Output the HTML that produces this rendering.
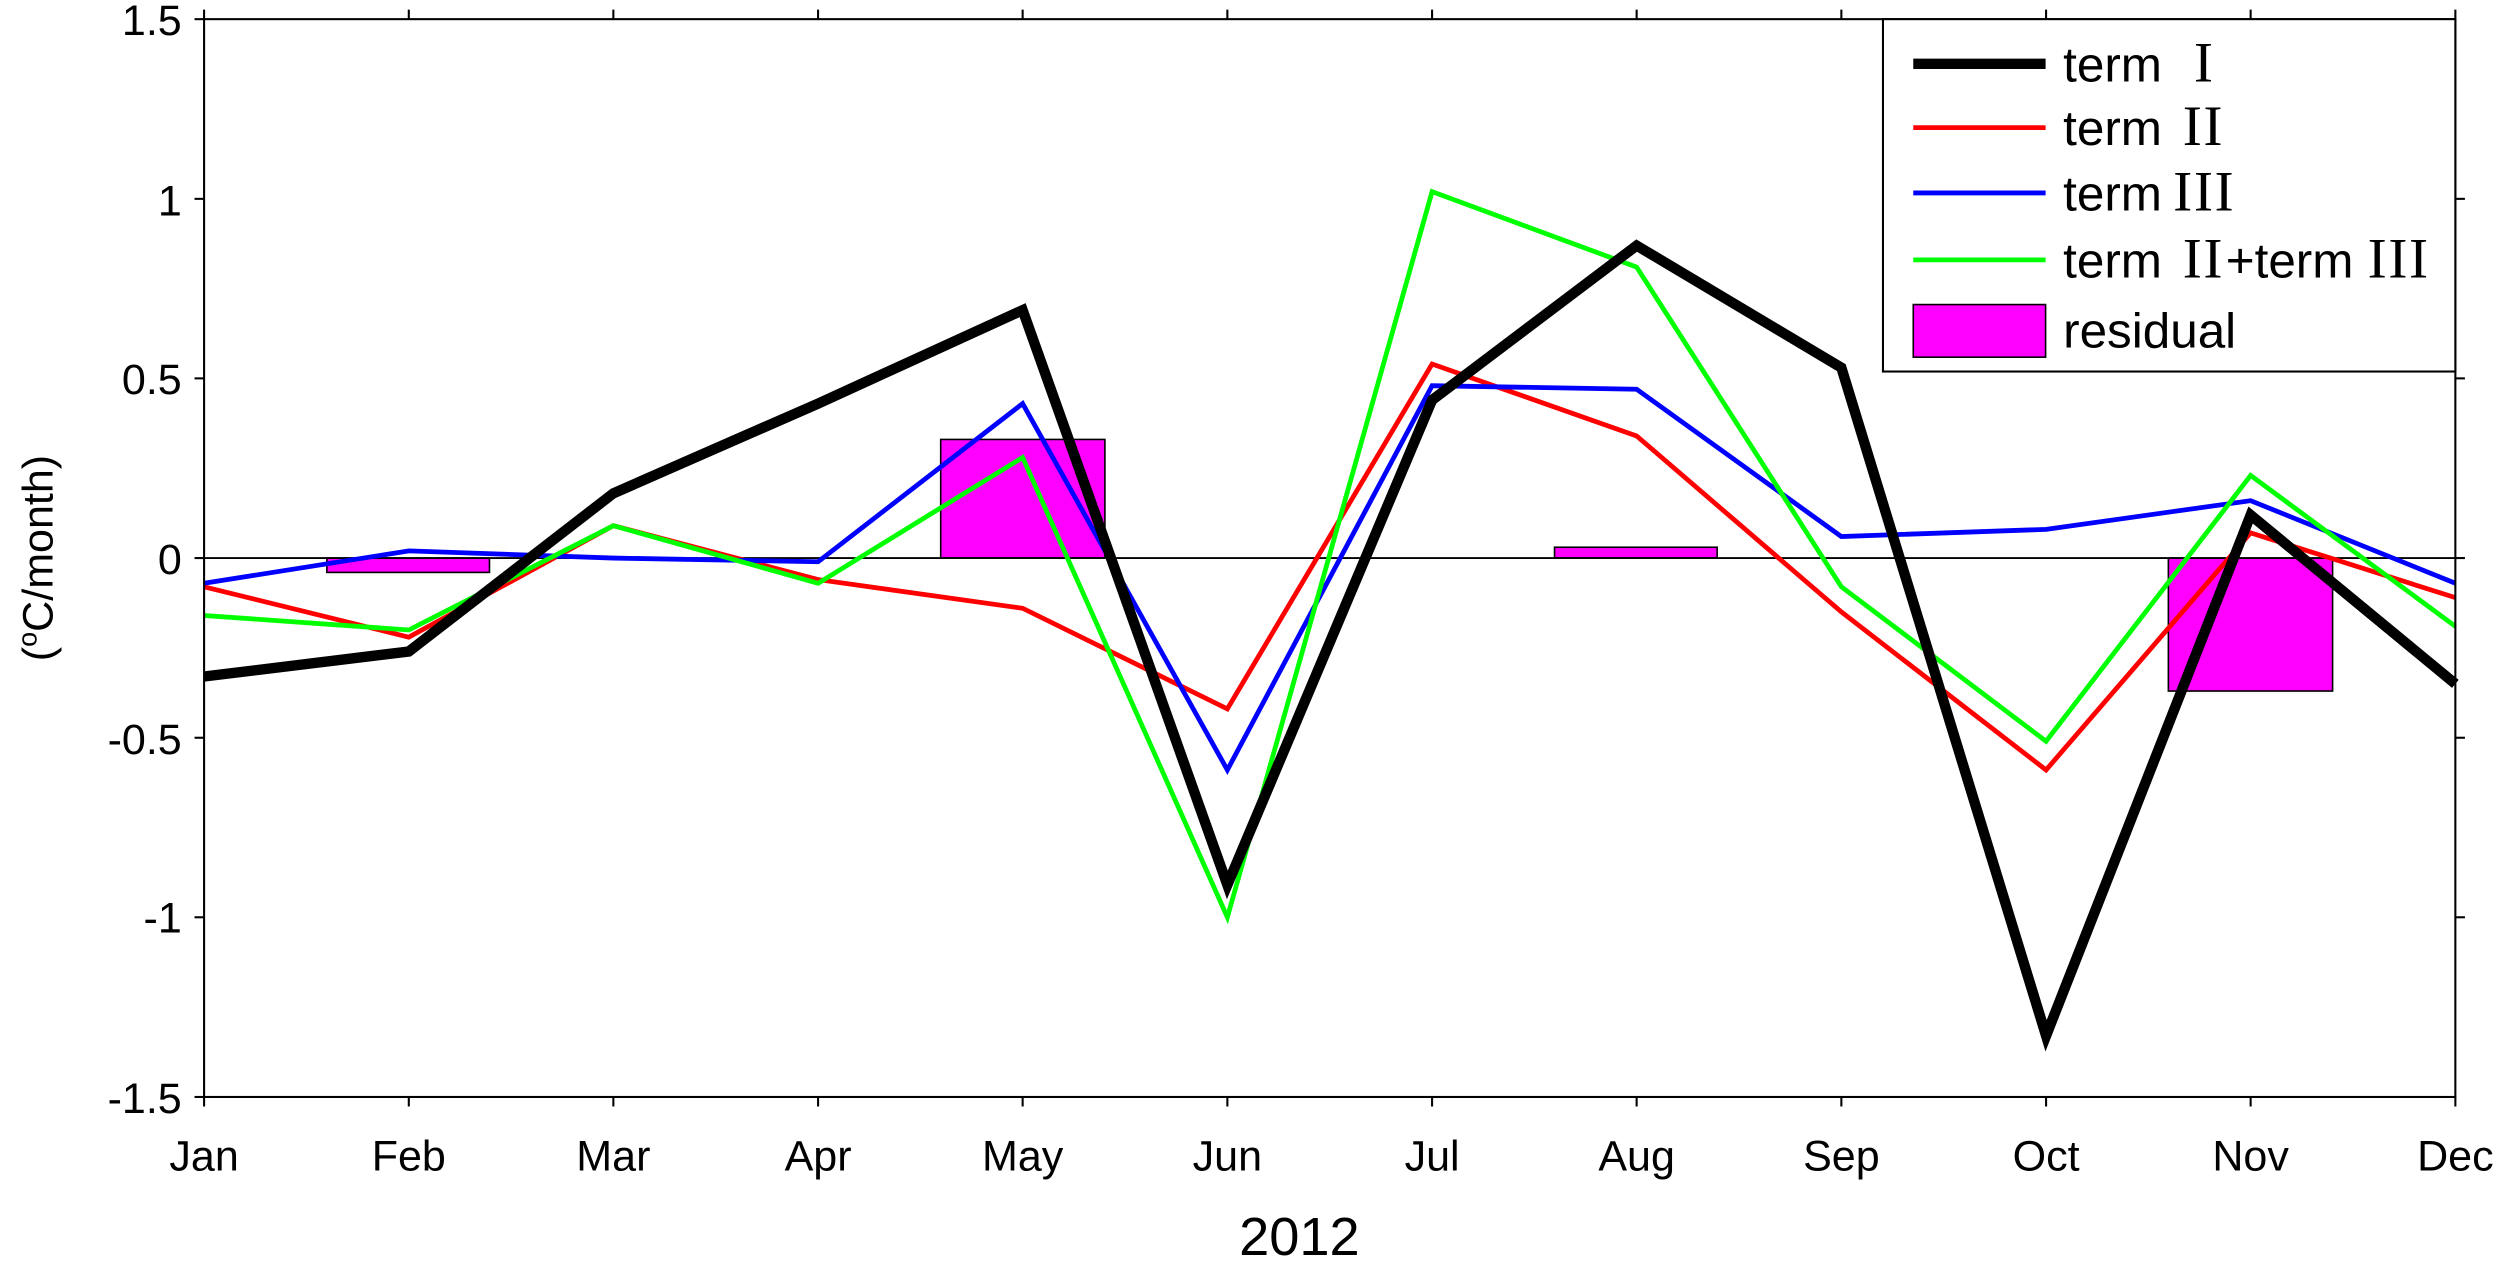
<!DOCTYPE html>
<html><head><meta charset="utf-8"><style>html,body{margin:0;padding:0;background:#fff}svg{display:block}</style></head>
<body>
<svg width="2500" height="1266" viewBox="0 0 1568 794" xmlns="http://www.w3.org/2000/svg" font-family="Liberation Sans, Arial, sans-serif">
<rect width="1568" height="794" fill="#fff"/>
<g fill="#ff00ff" stroke="#000" stroke-width="1">
<rect x="205" y="350" width="102" height="9"/>
<rect x="590" y="275.6" width="103" height="74.4"/>
<rect x="975" y="343.2" width="102" height="6.8"/>
<rect x="1360" y="350" width="103" height="83.4"/>
</g>
<line x1="128" y1="350" x2="1540" y2="350" stroke="#000" stroke-width="1.2"/>
<g fill="none" stroke-linejoin="miter">
<polyline stroke="#ff0000" stroke-width="3" points="128,368 256.4,399.6 384.7,329.7 513.1,363.5 641.4,381.5 769.8,444.6 898.2,228.3 1026.5,273.4 1154.9,383.8 1283.3,482.9 1411.6,334.2 1540,374.8"/>
<polyline stroke="#0000ff" stroke-width="3" points="128,365.8 256.4,345.5 384.7,350 513.1,352.3 641.4,253.1 769.8,482.9 898.2,241.9 1026.5,244.1 1154.9,336.5 1283.3,332 1411.6,314 1540,365.8"/>
<polyline stroke="#00ff00" stroke-width="3" points="128,386 256.4,395.1 384.7,329.7 513.1,365.8 641.4,286.9 769.8,575.3 898.2,120.2 1026.5,167.5 1154.9,368 1283.3,464.9 1411.6,298.2 1540,392.8"/>
<polyline stroke="#000" stroke-width="6.5" points="128,424.3 256.4,408.6 384.7,309.4 513.1,253.1 641.4,194.5 769.8,555 898.2,250.9 1026.5,154 1154.9,230.6 1283.3,649.6 1411.6,323 1540,428.9"/>
</g>
<rect x="128" y="12" width="1412" height="676" fill="none" stroke="#000" stroke-width="1.3"/>
<g stroke="#000" stroke-width="1.3">
<line x1="122" y1="12" x2="128" y2="12"/><line x1="122" y1="124.7" x2="128" y2="124.7"/><line x1="122" y1="237.3" x2="128" y2="237.3"/><line x1="122" y1="350" x2="128" y2="350"/><line x1="122" y1="462.7" x2="128" y2="462.7"/><line x1="122" y1="575.3" x2="128" y2="575.3"/><line x1="122" y1="688" x2="128" y2="688"/>
<line x1="1540" y1="124.7" x2="1546" y2="124.7"/><line x1="1540" y1="237.3" x2="1546" y2="237.3"/><line x1="1540" y1="350" x2="1546" y2="350"/><line x1="1540" y1="462.7" x2="1546" y2="462.7"/><line x1="1540" y1="575.3" x2="1546" y2="575.3"/>
<path d="M128 688v6M256.4 688v6M384.7 688v6M513.1 688v6M641.4 688v6M769.8 688v6M898.2 688v6M1026.5 688v6M1154.9 688v6M1283.3 688v6M1411.6 688v6M1540 688v6"/>
<path d="M128 12v-6M256.4 12v-6M384.7 12v-6M513.1 12v-6M641.4 12v-6M769.8 12v-6M898.2 12v-6M1026.5 12v-6M1154.9 12v-6M1283.3 12v-6M1411.6 12v-6M1540 12v-6"/>
</g>
<g font-size="27" text-anchor="end" fill="#000">
<text x="114" y="22">1.5</text><text x="114" y="135">1</text><text x="114" y="247">0.5</text><text x="114" y="360">0</text><text x="114" y="473">-0.5</text><text x="114" y="585">-1</text><text x="114" y="698">-1.5</text>
</g>
<g font-size="27" text-anchor="middle" fill="#000">
<text x="128" y="734">Jan</text><text x="256.4" y="734">Feb</text><text x="384.7" y="734">Mar</text><text x="513.1" y="734">Apr</text><text x="641.4" y="734">May</text><text x="769.8" y="734">Jun</text><text x="898.2" y="734">Jul</text><text x="1026.5" y="734">Aug</text><text x="1154.9" y="734">Sep</text><text x="1283.3" y="734">Oct</text><text x="1411.6" y="734">Nov</text><text x="1540" y="734">Dec</text>
<text x="815" y="787" font-size="34">2012</text>
</g>
<text transform="translate(33,350) rotate(-90)" font-size="27" text-anchor="middle">(<tspan font-size="17" dy="-10">o</tspan><tspan dy="10">C/month)</tspan></text>
<rect x="1181" y="12" width="359" height="221" fill="#fff" stroke="#000" stroke-width="1.3"/>
<line x1="1200" y1="40" x2="1283" y2="40" stroke="#000" stroke-width="6.5"/>
<line x1="1200" y1="80" x2="1283" y2="80" stroke="#f00" stroke-width="3"/>
<line x1="1200" y1="121" x2="1283" y2="121" stroke="#00f" stroke-width="3"/>
<line x1="1200" y1="163" x2="1283" y2="163" stroke="#0f0" stroke-width="3"/>
<rect x="1200" y="191" width="83" height="33" fill="#ff00ff" stroke="#000" stroke-width="1"/>
<g font-size="31" fill="#000">
<text x="1294" y="51">term</text>
<text x="1294" y="91">term</text>
<text x="1294" y="132">term</text>
<text x="1294" y="174">term</text>
<text x="1396" y="174">+term</text>
<text x="1294" y="218">residual</text>
</g>
<g font-family="Liberation Serif, serif" font-size="36" fill="#000" letter-spacing="1">
<text x="1376" y="51">I</text>
<text x="1369" y="91">II</text>
<text x="1363" y="132">III</text>
<text x="1369" y="174">II</text>
<text x="1485" y="174">III</text>
</g>
</svg>
</body></html>
